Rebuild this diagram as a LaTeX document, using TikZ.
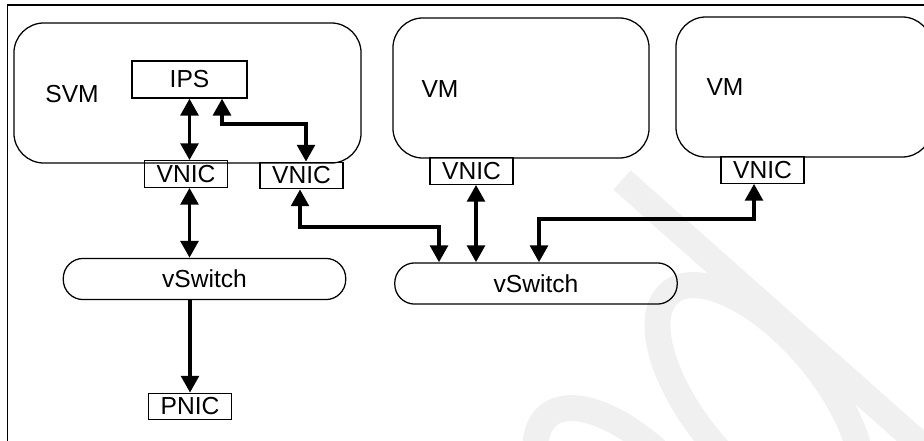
\documentclass[tikz,border=0pt]{standalone}
\usepackage{fontspec}
\setmainfont{Liberation Sans}
\usepackage{xcolor}
\usepackage{tikz}
\usetikzlibrary{arrows.meta,positioning}

\begin{document}
\begin{tikzpicture}[
  x=0.025cm,y=-0.025cm,
  vmbox/.style={draw,line width=0.9pt,rounded corners=0.75cm,inner sep=0pt,
                minimum width=6.4cm,minimum height=3.5cm},
  txt/.style={font=\fontsize{17.5}{20}\selectfont,inner sep=0pt},
  nic/.style={draw,line width=0.9pt,inner sep=0pt,minimum width=2.08cm,
              minimum height=0.66cm,font=\fontsize{17.5}{20}\selectfont},
  sw/.style={draw,line width=0.9pt,rounded corners=0.5cm,inner sep=0pt,
             minimum width=7.06cm,minimum height=1.03cm,
             font=\fontsize{17.5}{20}\selectfont},
  wm/.style={black!6,line width=0.65cm},
  dbl/.style={line width=2.8pt,{Triangle[length=12pt,width=12.5pt]}-{Triangle[length=12pt,width=12.5pt]}},
  one/.style={line width=2.8pt,-{Triangle[length=12pt,width=12.5pt]}}]
  \useasboundingbox (0,0) rectangle (924,440);
  \draw[wm] (622,180) -- (940,462);
  \draw[wm,rotate around={-50:(760,400)}] (760,400) ellipse (3.5cm and 1.6cm);
  \draw[wm,rotate around={-50:(638,523)}] (638,523) ellipse (3.5cm and 1.6cm);
  \draw[line width=1pt] (7.5,5) rectangle (1000,500);
  \node[vmbox,minimum width=8.675cm] (svm) at (187.5,93) {};
  \node[txt] (svmlbl) at (72,94) {SVM};
  \node[vmbox] (vm1) at (521,88) {};
  \node[txt] (vm1lbl) at (440,89) {VM};
  \node[vmbox] (vm2) at (804,87) {};
  \node[txt] (vm2lbl) at (725,87) {VM};
  \node[nic,minimum width=2.875cm,minimum height=0.925cm] (ips) at (189.5,79.5) {IPS};
  \node[nic] (vnicA) at (186,174) {VNIC};
  \node[nic] (vnicB) at (301.5,175.5) {VNIC};
  \node[nic] (vnicC) at (471.5,171) {VNIC};
  \node[nic] (vnicD) at (762.5,170) {VNIC};
  \node[sw] (sw1) at (204.5,279) {vSwitch};
  \node[sw] (sw2) at (536,283.5) {vSwitch};
  \node[nic] (pnic) at (190,406.5) {PNIC};
  \coordinate (b1) at (222,124);
  \coordinate (b2) at (306,124);
  \coordinate (b3) at (300,227);
  \coordinate (b4) at (439,227);
  \coordinate (b5) at (476,220);
  \coordinate (b6) at (754,219);
  \coordinate (b7) at (539,219);
  \draw[dbl] (ips.south) -- (ips.south |- vnicA.north);
  \draw[dbl] (vnicA.south -| ips.south) -- (ips.south |- sw1.north);
  \draw[one] (sw1.south -| pnic.north) -- (pnic.north);
  \draw[dbl] (ips.south -| b1) -- (b1) -- (b2) -- (vnicB.north -| b2);
  \draw[dbl] (vnicB.south -| b3) -- (b3) -- (b4) -- (sw2.north -| b4);
  \draw[dbl] (vnicC.south -| b5) -- (sw2.north -| b5);
  \draw[dbl] (vnicD.south -| b6) -- (b6) -- (b7) -- (sw2.north -| b7);
\end{tikzpicture}
\end{document}
